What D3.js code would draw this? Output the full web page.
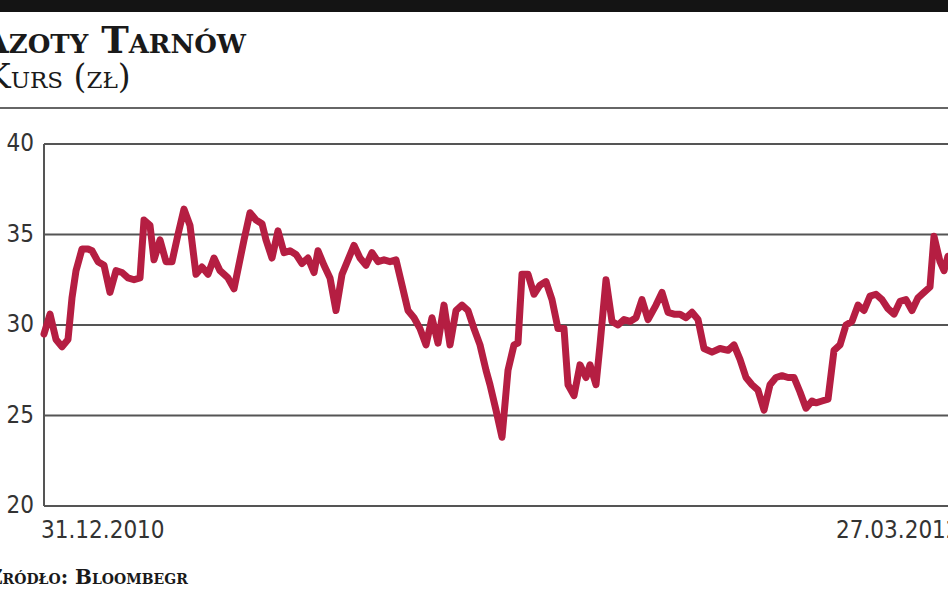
<!DOCTYPE html>
<html><head><meta charset="utf-8">
<script src="https://cdn.jsdelivr.net/npm/d3@7"></script>
<style>body{margin:0;background:#fff;overflow:hidden}</style>
</head><body><svg id="c" width="948" height="593"></svg>
<script>
const title = "Azoty Tarnów";
const subtitle = "Kurs (zł)";
const source = "Źródło: Bloombegr";
const yTicks = [20, 25, 30, 35, 40];
const dateLabels = ["31.12.2010", "27.03.2012"];
const days = [0,3,6,9,12,14,16,19,22,24,27,30,33,36,39,42,45,48,50,53,55,58,61,64,67,70,73,76,79,82,85,88,92,95,100,103,106,109,111,114,117,120,123,126,129,132,135,137,140,143,146,149,152,155,158,161,164,167,170,173,176,179,182,185,188,191,194,197,200,203,206,209,212,215,218,221,223,226,229,232,235,237,239,242,245,248,251,254,257,260,262,265,268,271,273,276,278,281,284,287,290,293,296,299,302,306,309,312,315,318,321,324,327,330,334,338,342,345,348,351,354,357,360,363,366,369,372,375,378,381,384,386,389,392,395,398,401,404,407,410,413,416,419,422,425,428,431,434,437,440,443,445,448,450,452];
const prices = [29.5,30.6,29.2,28.8,29.2,31.5,33,34.2,34.2,34.1,33.5,33.3,31.8,33,32.9,32.6,32.5,32.6,35.8,35.5,33.6,34.7,33.5,33.5,35,36.4,35.5,32.8,33.2,32.8,33.7,33,32.6,32,34.7,36.2,35.8,35.6,34.7,33.7,35.2,34,34.1,33.9,33.4,33.7,32.9,34.1,33.3,32.6,30.8,32.8,33.6,34.4,33.7,33.3,34,33.5,33.6,33.5,33.6,32.2,30.8,30.4,29.8,28.9,30.4,29,31.1,28.9,30.8,31.1,30.8,29.8,28.9,27.5,26.7,25.3,23.8,27.5,28.9,29,32.8,32.8,31.7,32.2,32.4,31.4,29.8,29.8,26.7,26.1,27.8,27.1,27.8,26.7,28.9,32.5,30.2,30,30.3,30.2,30.4,31.4,30.3,31.1,31.8,30.7,30.6,30.6,30.4,30.7,30.3,28.7,28.5,28.7,28.6,28.9,28.1,27.1,26.7,26.4,25.3,26.7,27.1,27.2,27.1,27.1,26.3,25.4,25.8,25.7,25.8,25.9,28.6,28.9,30,30.2,31.1,30.8,31.6,31.7,31.4,30.9,30.6,31.3,31.4,30.8,31.5,31.8,32.1,34.9,33.5,33,33.8];

const svg = d3.select("#c");
const x = d3.scaleLinear().domain([0, 452]).range([44, 948]);
const y = d3.scaleLinear().domain([20, 40]).range([506, 144]);

svg.append("rect").attr("x",0).attr("y",0).attr("width",948).attr("height",12).attr("fill","#141414");
svg.append("text").attr("x",-20).attr("y",53).text(title)
  .attr("font-family","DejaVu Serif").attr("font-weight","bold").attr("font-size",37)
  .attr("font-variant","small-caps").attr("fill","#1a1a1a");
svg.append("text").attr("x",-14).attr("y",88).text(subtitle)
  .attr("font-family","DejaVu Serif").attr("font-size",33)
  .attr("font-variant","small-caps").attr("fill","#1a1a1a");
svg.append("line").attr("x1",0).attr("x2",948).attr("y1",108).attr("y2",108).attr("stroke","#666").attr("stroke-width",2);

const g = svg.append("g");
g.selectAll("line.grid").data(yTicks).join("line")
  .attr("x1",44).attr("x2",948).attr("y1",d=>y(d)).attr("y2",d=>y(d))
  .attr("stroke","#555").attr("stroke-width",2);
g.append("line").attr("x1",44).attr("x2",44).attr("y1",y(40)).attr("y2",y(20)).attr("stroke","#555").attr("stroke-width",2);
const lab = {"font-family":"'Liberation Sans Narrow','DejaVu Sans Condensed',sans-serif","font-size":24,"fill":"#333"};
const yl = g.selectAll("text.y").data(yTicks).join("text")
  .attr("x",34).attr("y",d=>y(d)+7).attr("text-anchor","end").text(d=>d);
Object.entries(lab).forEach(([k,v])=>yl.attr(k,v));
const xl = g.selectAll("text.x").data(dateLabels).join("text")
  .attr("x",(d,i)=>i===0?x(0)-3:x(396)).attr("y",538).text(d=>d);
Object.entries(lab).forEach(([k,v])=>xl.attr(k,v));

const line = d3.line().x((d,i)=>x(days[i])).y(d=>y(d)).curve(d3.curveLinear);
svg.append("path").datum(prices).attr("d",line).attr("fill","none")
  .attr("stroke","#b51e42").attr("stroke-width",7).attr("stroke-linejoin","round").attr("stroke-linecap","round");

svg.append("text").attr("x",-12).attr("y",584).text(source)
  .attr("font-family","DejaVu Serif").attr("font-weight","bold").attr("font-size",20)
  .attr("font-variant","small-caps").attr("fill","#1a1a1a");
</script></body></html>
